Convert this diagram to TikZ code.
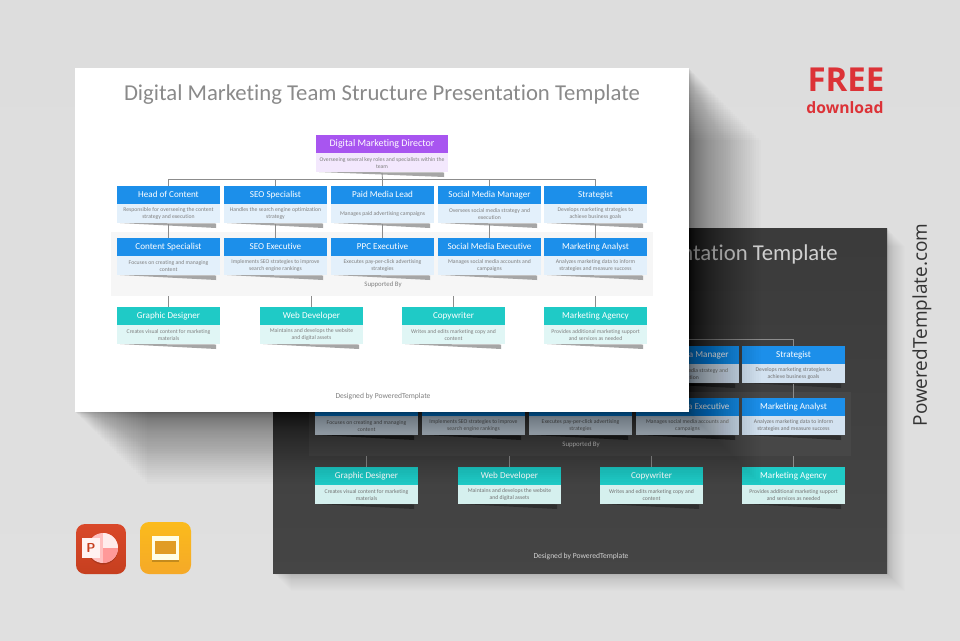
\documentclass[tikz,border=0pt]{standalone}
\usepackage{fontspec}
\usetikzlibrary{positioning}
\setmainfont[Ligatures=CommonOff]{Carlito}
\newfontfamily\brandfont{Open Sans}
\definecolor{backtop}{HTML}{DDDDDD}
\definecolor{backbottom}{HTML}{E0E0E0}
\definecolor{freered}{HTML}{DC3237}
\definecolor{headpurple}{HTML}{A855F0}
\definecolor{bodypurple}{HTML}{F3E8FD}
\definecolor{headblue}{HTML}{1C8FEA}
\definecolor{bodyblue}{HTML}{E3F0FB}
\definecolor{headteal}{HTML}{1FCAC6}
\definecolor{bodyteal}{HTML}{E0F6F5}
\definecolor{bodytext}{HTML}{808080}
\definecolor{titlegray}{HTML}{8A8A8A}
\definecolor{notegray}{HTML}{808080}
\definecolor{wedgegray}{HTML}{A6A6A6}
\definecolor{linkgray}{HTML}{8C8C8C}
\definecolor{bandgray}{HTML}{F6F6F6}
\definecolor{pptred}{HTML}{D9482A}
\definecolor{pptdark}{HTML}{C63F1F}
\definecolor{slidestop}{HTML}{FBBB1C}
\definecolor{slideslow}{HTML}{F5A928}
\tikzset{
    headbox/.style={rectangle, inner sep=0pt, minimum height=18pt, text height=6.2pt, text depth=1.9pt, text=white, font=\fontsize{9.1}{10}\selectfont},
    bodybox/.style={rectangle, inner sep=0pt, minimum height=19pt, text=bodytext, align=center, font=\fontsize{5.7}{7.2}\selectfont},
    wedge/.style={fill=wedgegray},
    link/.style={draw=linkgray, line width=0.8pt},
    slidetitle/.style={text=titlegray, inner sep=0pt, font=\fontsize{22.7}{24}\selectfont},
    smallnote/.style={text=notegray, inner sep=0pt, font=\fontsize{6.8}{8}\selectfont},
    designnote/.style={text=notegray, inner sep=0pt, font=\fontsize{7.6}{8}\selectfont},
    supportband/.style={rectangle, inner sep=0pt, minimum width=542pt, minimum height=64pt, fill=bandgray},
}
% header box, body box and the slanted strip below it: name, x, y, width, colours, title, text
\newcommand{\orgbox}[8]{
    \fill[wedge] (#2+3,#3+37) -- (#2+#4-4,#3+37.5) -- (#2+#4-4,#3+42) -- cycle;
    \node[headbox, fill=#5, minimum width=#4pt] (#1) at ({#2+#4/2},#3+9){#7};
    \node[bodybox, fill=#6, minimum width=#4pt, below=0pt of #1] (#1b){#8};
}
% the lower rows are the same on both slides, #1 keeps the node names apart
\newcommand{\lowerrows}[1]{
    \node[smallnote] (#1sup) at (383, 285){Supported By};
    \orgbox{#1gd}{117}{307}{103}{headteal}{bodyteal}{Graphic Designer}{Creates visual content for marketing\\materials}
    \orgbox{#1web}{260}{307}{103}{headteal}{bodyteal}{Web Developer}{Maintains and develops the website\\and digital assets}
    \orgbox{#1cw}{402}{307}{103}{headteal}{bodyteal}{Copywriter}{Writes and edits marketing copy and\\content}
    \orgbox{#1ag}{544}{307}{103}{headteal}{bodyteal}{Marketing Agency}{Provides additional marketing support\\and services as needed}
    \node[designnote] (#1des) at (383, 397){Designed by PoweredTemplate};
    \foreach \lowbox in {gd, web, cw, ag}
        \draw[link] (#1band.south -| #1\lowbox.north) -- (#1\lowbox.north);
}
% slanted shadow: the same rectangle again and again, moved down to the right
\newcommand{\softshadow}[6]{
    \foreach \i in {1,...,#5}
        \fill[black, opacity=#6] ({#1+\i*\i/50},{#2+\i*\i/50}) rectangle ({#3+\i*\i/50},{#4+\i*\i/50});
}
\begin{document}
\begin{tikzpicture}[x=1pt, y=-1pt]
    \useasboundingbox (0, 0) rectangle (960, 640);
    \shade[top color=backtop, bottom color=backbottom] (0, 0) rectangle (960, 640);

    % dark slide
    \softshadow{273}{228}{887}{573}{30}{0.006}
    \shade[top color=black!77, bottom color=black!73] (273, 228) rectangle (887, 573);
    \begin{scope}[shift={(198, 160)}]
        \colorlet{bodytext}{black!55}
        \colorlet{titlegray}{black!18}
        \colorlet{notegray}{black!18}
        \colorlet{wedgegray}{black!82}
        \colorlet{linkgray}{black!45}
        \colorlet{bandgray}{black!72}
        \definecolor{bodyblue}{HTML}{D3E2F0}
        \definecolor{bodyteal}{HTML}{D5F0EE}
        \node[slidetitle, anchor=east] (dtitle) at (640, 94){ntation Template};
        \node[supportband] (dband) at (382, 264){};
        \orgbox{dsmm}{438}{186}{103}{headblue}{bodyblue}{Social Media Manager}{Oversees social media strategy and\\execution}
        \orgbox{dstr}{544}{186}{103}{headblue}{bodyblue}{Strategist}{Develops marketing strategies to\\achieve business goals}
        \orgbox{dcs}{117}{238}{103}{headblue}{bodyblue}{}{Focuses on creating and managing\\content}
        \orgbox{dsee}{224}{238}{103}{headblue}{bodyblue}{}{Implements SEO strategies to improve\\search engine rankings}
        \orgbox{dppc}{331}{238}{103}{headblue}{bodyblue}{}{Executes pay-per-click advertising\\strategies}
        \orgbox{dsme}{438}{238}{103}{headblue}{bodyblue}{Social Media Executive}{Manages social media accounts and\\campaigns}
        \orgbox{dana}{544}{238}{103}{headblue}{bodyblue}{Marketing Analyst}{Analyzes marketing data to inform\\strategies and measure success}
        \coordinate (dbus) at (382.5, 179);
        \draw[link] (dbus) -| (dstr.north);
        \draw[link] (dbus -| dsmm.north) -- (dsmm.north);
        \draw[link] (dstrb.south) -- (dana.north);
        \draw[link] (dsmmb.south) -- (dsme.north);
        \lowerrows{d}
    \end{scope}

    % white slide
    \softshadow{75}{68}{689}{412}{60}{0.0115}
    \fill[white] (75, 68) rectangle (689, 412);
    \node[slidetitle] (wtitle) at (382, 94.5){Digital Marketing Team Structure Presentation Template};
    \node[supportband] (wband) at (382, 264){};
    \orgbox{wdir}{316}{135}{132}{headpurple}{bodypurple}{\fontsize{10}{10}\selectfont Digital Marketing Director}{Overseeing several key roles and specialists within the\\team}
    \orgbox{whc}{117}{186}{103}{headblue}{bodyblue}{Head of Content}{Responsible for overseeing the content\\strategy and execution}
    \orgbox{wseo}{224}{186}{103}{headblue}{bodyblue}{SEO Specialist}{Handles the search engine optimization\\strategy}
    \orgbox{wpaid}{331}{186}{103}{headblue}{bodyblue}{Paid Media Lead}{Manages paid advertising campaigns}
    \orgbox{wsmm}{438}{186}{103}{headblue}{bodyblue}{Social Media Manager}{Oversees social media strategy and\\execution}
    \orgbox{wstr}{544}{186}{103}{headblue}{bodyblue}{Strategist}{Develops marketing strategies to\\achieve business goals}
    \orgbox{wcs}{117}{238}{103}{headblue}{bodyblue}{Content Specialist}{Focuses on creating and managing\\content}
    \orgbox{wsee}{224}{238}{103}{headblue}{bodyblue}{SEO Executive}{Implements SEO strategies to improve\\search engine rankings}
    \orgbox{wppc}{331}{238}{103}{headblue}{bodyblue}{PPC Executive}{Executes pay-per-click advertising\\strategies}
    \orgbox{wsme}{438}{238}{103}{headblue}{bodyblue}{Social Media Executive}{Manages social media accounts and\\campaigns}
    \orgbox{wana}{544}{238}{103}{headblue}{bodyblue}{Marketing Analyst}{Analyzes marketing data to inform\\strategies and measure success}
    \coordinate (wbus) at (382.5, 179);
    \draw[link] (wdirb.south) -- (wbus);
    \draw[link] (whc.north) |- (wbus -| wstr.north) -- (wstr.north);
    \foreach \upbox in {seo, paid, smm}
        \draw[link] (wbus -| w\upbox.north) -- (w\upbox.north);
    \foreach \upbox/\lowbox in {hc/cs, seo/see, paid/ppc, smm/sme, str/ana}
        \draw[link] (w\upbox b.south) -- (w\lowbox.north);
    \lowerrows{w}

    % corner texts
    \node[text=freered, inner sep=0pt, font=\brandfont\bfseries\fontsize{33}{35}\selectfont] (free) at (846, 80){FREE};
    \node[text=freered, inner sep=0pt, font=\brandfont\bfseries\fontsize{15.7}{18}\selectfont] (download) at (845, 108){download};
    \node[text=black!80, inner sep=0pt, rotate=90, font=\brandfont\fontsize{19}{21}\selectfont] (brand) at (922, 325){PoweredTemplate.com};

    % PowerPoint icon
    \shade[top color=pptred, bottom color=pptdark, rounded corners=9pt] (76, 524) rectangle (126, 574);
    \fill[black, opacity=0.15] (103, 549.5) circle[radius=15];
    \begin{scope}
        \clip (103, 548) circle[radius=15];
        \fill[red!25!white] (88, 533) rectangle (118, 563);
        \fill[red!8!white] (103, 533) rectangle (118, 548);
        \fill[red!40!white] (103, 548) rectangle (118, 563);
    \end{scope}
    \node[rectangle, fill=red!5!white, minimum width=18pt, minimum height=20pt, inner sep=0pt, text=pptdark, font=\sffamily\bfseries\fontsize{13}{14}\selectfont] (pptp) at (91, 548){P};

    % Slides icon
    \shade[top color=slidestop, bottom color=slideslow, rounded corners=9pt] (140, 522) rectangle (191, 574);
    \fill[black, opacity=0.2] (152, 538) rectangle (179, 562);
    \fill[yellow!10!white] (152, 536) rectangle (179, 560);
    \fill[slideslow!92!black] (155, 541) rectangle (176, 554);
\end{tikzpicture}
\end{document}
